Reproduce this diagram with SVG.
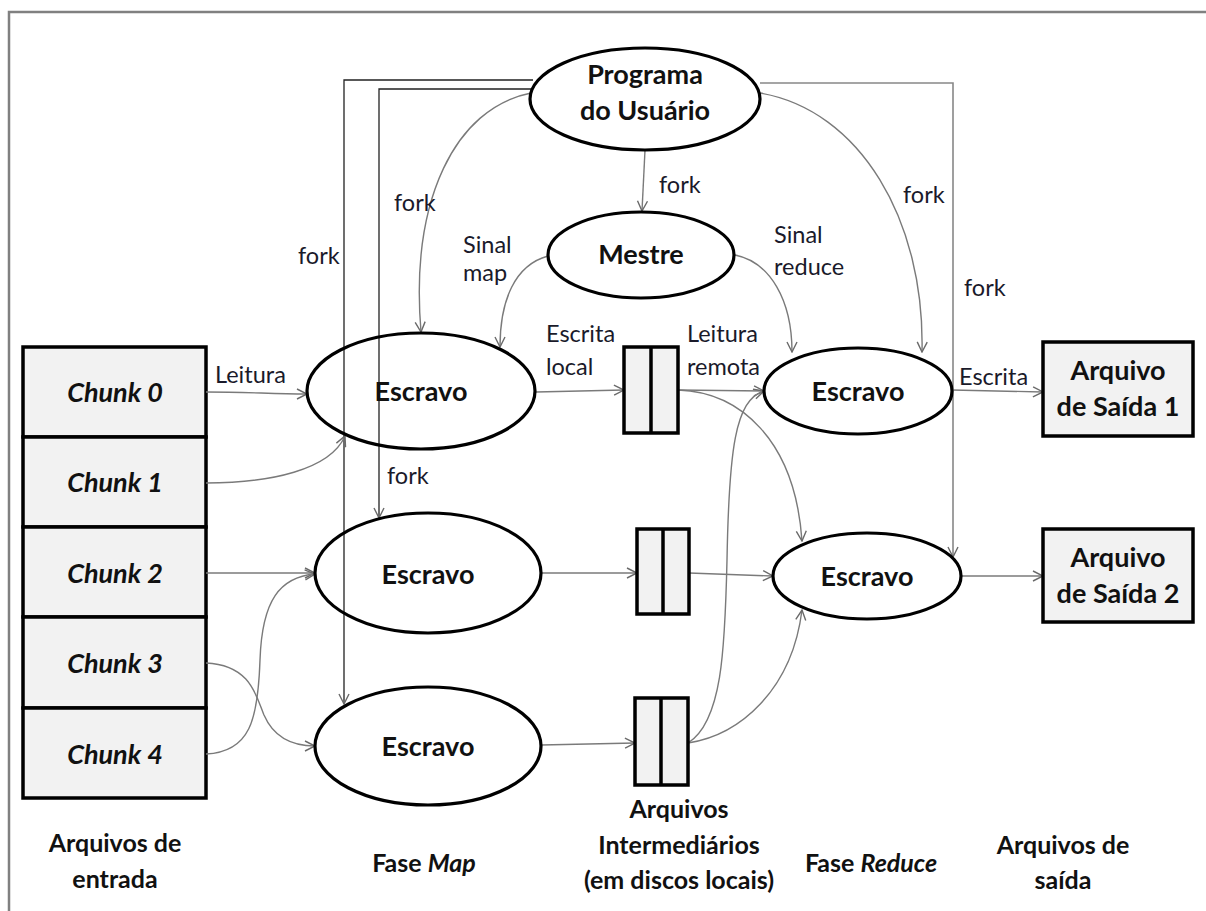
<svg xmlns="http://www.w3.org/2000/svg" width="1206" height="911" viewBox="0 0 1206 911">
  <defs>
    <style>
      text { font-family: Lato, "Liberation Sans", sans-serif; fill: #111; }
      .node { font-weight: bold; font-size: 27px; text-anchor: middle; }
      .chunk { font-weight: bold; font-style: italic; font-size: 27px; text-anchor: middle; }
      .lbl { font-size: 23.5px; fill: #1a1a2a; }
      .cap { font-weight: bold; font-size: 25px; text-anchor: middle; }
      .ell { fill: none; stroke: #000; stroke-width: 3.2; }
      .box { fill: #f2f2f2; stroke: #000; stroke-width: 3.5; }
      .edge { fill: none; stroke: #7a7a7a; stroke-width: 1.4; marker-end: url(#arr); }
      .elbow { fill: none; stroke: #222; stroke-width: 1.3; marker-end: url(#arr); }
      .elbow2 { fill: none; stroke: #888; stroke-width: 1.6; marker-end: url(#arr); }
    </style>
    <marker id="arr" viewBox="0 0 12 12" refX="11" refY="6" markerWidth="12" markerHeight="12" markerUnits="userSpaceOnUse" orient="auto">
      <path d="M1,1 L11,6 L1,11" fill="none" stroke="#6a6a6a" stroke-width="1.4"/>
    </marker>
  </defs>

  <rect width="1206" height="911" fill="#fff"/>
  <!-- outer frame -->
  <path d="M9,911 V12 H1206" fill="none" stroke="#808080" stroke-width="2.5"/>

  <!-- input chunks -->
  <g id="chunk0"><rect class="box" x="23" y="347" width="183" height="90"/><text class="chunk" x="115" y="402">Chunk 0</text></g>
  <g id="chunk1"><rect class="box" x="23" y="437" width="183" height="90"/><text class="chunk" x="115" y="492">Chunk 1</text></g>
  <g id="chunk2"><rect class="box" x="23" y="527" width="183" height="90"/><text class="chunk" x="115" y="583">Chunk 2</text></g>
  <g id="chunk3"><rect class="box" x="23" y="617" width="183" height="91"/><text class="chunk" x="115" y="673">Chunk 3</text></g>
  <g id="chunk4"><rect class="box" x="23" y="708" width="183" height="90"/><text class="chunk" x="115" y="764">Chunk 4</text></g>

  <!-- connectors -->
  <g id="connectors">
    <!-- user program forks -->
    <path class="elbow" d="M533,80 H344 V704"/>
    <path class="elbow" d="M533,89 H379 V518"/>
    <path class="elbow2" d="M760,83 H953 V557"/>
    <path class="edge" d="M531,93 C455,108 410,200 421,332"/>
    <path class="edge" d="M645,150 L642,211"/>
    <path class="edge" d="M760,93 C860,110 925,220 922,352"/>
    <!-- master signals -->
    <path class="edge" d="M548,256 C515,265 500,300 500,347"/>
    <path class="edge" d="M735,255 C770,262 792,300 792,352"/>
    <!-- reads from input -->
    <path class="edge" d="M206,392 C250,392 270,394 307,394"/>
    <path class="edge" d="M206,483 C270,483 330,470 345,436"/>
    <path class="edge" d="M206,573 L315,573"/>
    <path class="edge" d="M206,663 C250,665 256,695 264,715 C274,738 292,746 315,746"/>
    <path class="edge" d="M206,754 C250,752 258,720 260,660 C262,600 280,577 315,574"/>
    <!-- local writes -->
    <path class="edge" d="M536,392 L624,390"/>
    <path class="edge" d="M541,573 L637,573"/>
    <path class="edge" d="M541,745 L635,743"/>
    <!-- remote reads -->
    <path class="edge" d="M678,390 L764,391"/>
    <path class="edge" d="M678,390 C740,392 795,440 802,541"/>
    <path class="edge" d="M689,573 L773,576"/>
    <path class="edge" d="M688,743 C722,722 725,650 727,560 C729,450 735,400 764,391"/>
    <path class="edge" d="M688,743 C740,735 792,690 802,610"/>
    <!-- output writes -->
    <path class="edge" d="M952,390 L1043,392"/>
    <path class="edge" d="M962,576 L1043,576"/>

    <!-- edge labels -->
    <text class="lbl" x="394" y="211">fork</text>
    <text class="lbl" x="659" y="193">fork</text>
    <text class="lbl" x="903" y="203">fork</text>
    <text class="lbl" x="298" y="264">fork</text>
    <text class="lbl" x="387" y="484">fork</text>
    <text class="lbl" x="964" y="296">fork</text>
    <text class="lbl" x="463" y="253">Sinal</text>
    <text class="lbl" x="463" y="281">map</text>
    <text class="lbl" x="774" y="243">Sinal</text>
    <text class="lbl" x="774" y="275">reduce</text>
    <text class="lbl" x="215" y="383">Leitura</text>
    <text class="lbl" x="546" y="342">Escrita</text>
    <text class="lbl" x="546" y="375">local</text>
    <text class="lbl" x="687" y="342">Leitura</text>
    <text class="lbl" x="687" y="375">remota</text>
    <text class="lbl" x="959" y="385">Escrita</text>
  </g>

  <!-- user program and master -->
  <g id="programa"><ellipse class="ell" cx="645" cy="99" rx="115" ry="51"/><text class="node" x="645" y="84">Programa</text><text class="node" x="645" y="120">do Usuário</text></g>
  <g id="mestre"><ellipse class="ell" cx="641" cy="255" rx="93" ry="43"/><text class="node" x="641" y="264">Mestre</text></g>

  <!-- map workers -->
  <g id="map1"><ellipse class="ell" cx="421" cy="391" rx="114" ry="58"/><text class="node" x="421" y="401">Escravo</text></g>
  <g id="map2"><ellipse class="ell" cx="428" cy="573" rx="113" ry="60"/><text class="node" x="428" y="584">Escravo</text></g>
  <g id="map3"><ellipse class="ell" cx="428" cy="746" rx="113" ry="59"/><text class="node" x="428" y="756">Escravo</text></g>

  <!-- intermediate files -->
  <g id="inter1"><rect class="box" x="624" y="347" width="54" height="86"/><line x1="651" y1="347" x2="651" y2="433" stroke="#000" stroke-width="3.5"/></g>
  <g id="inter2"><rect class="box" x="637" y="529" width="52" height="85"/><line x1="663" y1="529" x2="663" y2="614" stroke="#000" stroke-width="3.5"/></g>
  <g id="inter3"><rect class="box" x="635" y="698" width="53" height="87"/><line x1="661" y1="698" x2="661" y2="785" stroke="#000" stroke-width="3.5"/></g>

  <!-- reduce workers -->
  <g id="reduce1"><ellipse class="ell" cx="858" cy="391" rx="94" ry="43"/><text class="node" x="858" y="401">Escravo</text></g>
  <g id="reduce2"><ellipse class="ell" cx="867" cy="576" rx="94" ry="43"/><text class="node" x="867" y="586">Escravo</text></g>

  <!-- output files -->
  <g id="saida1"><rect class="box" x="1043" y="342" width="150" height="94"/><text class="node" x="1118" y="380">Arquivo</text><text class="node" x="1118" y="416">de Saída 1</text></g>
  <g id="saida2"><rect class="box" x="1043" y="529" width="150" height="93"/><text class="node" x="1118" y="567">Arquivo</text><text class="node" x="1118" y="603">de Saída 2</text></g>

  <!-- column captions -->
  <g id="captions">
    <text class="cap" x="115" y="852">Arquivos de</text>
    <text class="cap" x="115" y="888">entrada</text>
    <text class="cap" x="424" y="872">Fase <tspan font-style="italic">Map</tspan></text>
    <text class="cap" x="679" y="818">Arquivos</text>
    <text class="cap" x="679" y="854">Intermediários</text>
    <text class="cap" x="679" y="889">(em discos locais)</text>
    <text class="cap" x="871" y="872">Fase <tspan font-style="italic">Reduce</tspan></text>
    <text class="cap" x="1063" y="854">Arquivos de</text>
    <text class="cap" x="1063" y="889">saída</text>
  </g>
</svg>
